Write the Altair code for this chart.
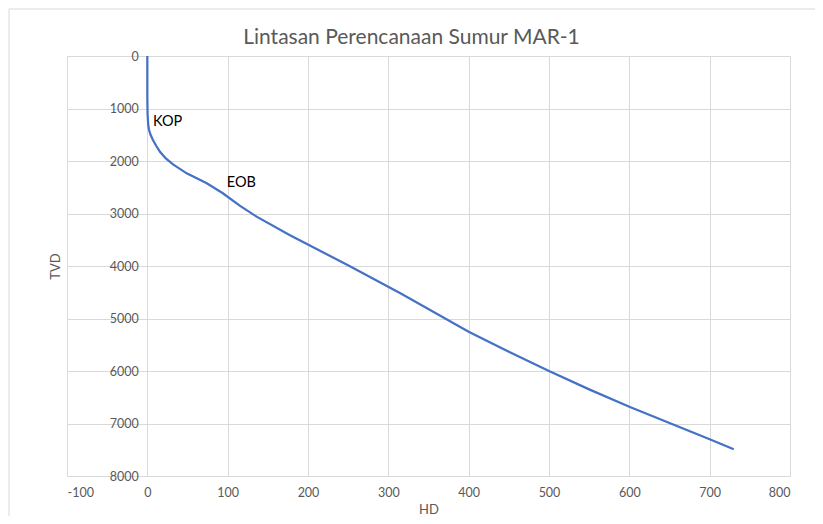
import altair as alt
import pandas as pd

# Trajectory (HD, TVD)
hd = [0, 0, 0.3, 1, 2, 4, 7, 11, 16, 23, 32, 49, 74, 94, 115, 136, 177, 251, 315, 400, 450, 500, 550, 600, 650, 700, 730]
tvd = [0, 800, 1100, 1300, 1400, 1500, 1600, 1710, 1830, 1950, 2066, 2235, 2425, 2615, 2851, 3060, 3410, 3995, 4520, 5251, 5632, 6000, 6350, 6680, 6990, 7301, 7491]

# Annotations
labels = ["KOP", "EOB"]
label_hd = [7, 99]
label_tvd = [1257, 2419]

x_ticks = [-100, 0, 100, 200, 300, 400, 500, 600, 700, 800]
y_ticks = [0, 1000, 2000, 3000, 4000, 5000, 6000, 7000, 8000]

df = pd.DataFrame({"HD": hd, "TVD": tvd, "order": list(range(len(hd)))})
ann = pd.DataFrame({"label": labels, "HD": label_hd, "TVD": label_tvd})

FONT = "Lato"
GREY = "#595959"
W, H = 723, 420

x_scale = alt.Scale(domain=[-100, 800], nice=False, zero=False)
y_scale = alt.Scale(domain=[0, 8000], reverse=True, nice=False)

x_axis = alt.Axis(values=x_ticks, title="HD", grid=True, gridColor="#d9d9d9",
                  domain=False, ticks=False, labelPadding=10, labelFontSize=12.5,
                  labelColor=GREY, labelFont=FONT, titleFont=FONT, titleFontSize=13,
                  titleColor=GREY, titleFontWeight="normal", titlePadding=5,
                  labelExpr="'' + datum.value")
y_axis = alt.Axis(values=y_ticks, title="TVD", grid=True, gridColor="#d9d9d9",
                  domain=False, ticks=False, labelPadding=9, labelFontSize=12.5,
                  labelColor=GREY, labelFont=FONT, titleFont=FONT, titleFontSize=13,
                  titleColor=GREY, titleFontWeight="normal", offset=-80.33,
                  titleX=-92, titleY=H / 2, titleAngle=-90, titleAlign="center",
                  titleBaseline="middle", labelExpr="'' + datum.value")

line = alt.Chart(df).mark_line(color="#4472C4", strokeWidth=2.25).encode(
    x=alt.X("HD:Q", scale=x_scale, axis=x_axis),
    y=alt.Y("TVD:Q", scale=y_scale, axis=y_axis),
    order="order:Q",
)

text = alt.Chart(ann).mark_text(align="left", baseline="middle", fontSize=14.5,
                                font=FONT, color="black").encode(
    x=alt.X("HD:Q", scale=x_scale),
    y=alt.Y("TVD:Q", scale=y_scale),
    text="label:N",
)

border = alt.Chart(pd.DataFrame({"a": [0]})).mark_rect(
    fill=None, stroke="#d9d9d9", strokeWidth=1).encode(
    x=alt.value(-58), x2=alt.value(W + 60),
    y=alt.value(-47), y2=alt.value(H + 60),
)

chart = alt.layer(border, line, text).properties(
    width=W, height=H,
    title=alt.TitleParams("Lintasan Perencanaan Sumur MAR-1", fontSize=21, font=FONT,
                          fontWeight="normal", color=GREY, anchor="middle",
                          frame="group", dx=-17, offset=-39),
    autosize=alt.AutoSizeParams(type="none"),
    padding={"left": 59, "top": 48, "right": 25, "bottom": 40},
).configure_view(stroke=None)

chart.save("out.html", embed_options={"renderer": "svg", "actions": False})
